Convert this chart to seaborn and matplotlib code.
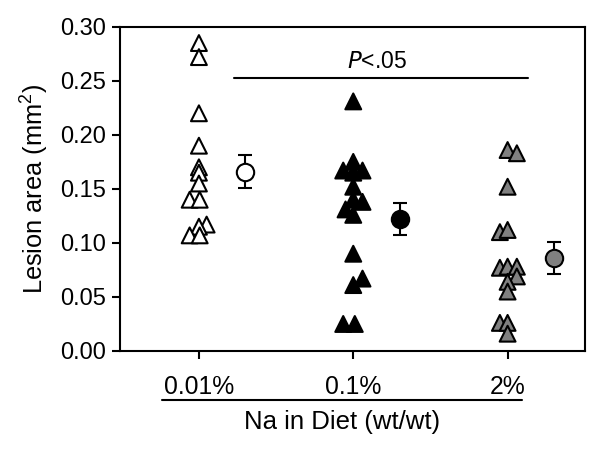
import numpy as np
import pandas as pd
import matplotlib
matplotlib.use('Agg')
import matplotlib.pyplot as plt
import seaborn as sns

# Lesion area per animal
groups = ['0.01%', '0.1%', '2%']
lesion_001 = [0.285, 0.272, 0.220, 0.190, 0.170, 0.165, 0.155, 0.140, 0.140, 0.117, 0.115, 0.107, 0.107]
lesion_01 = [0.231, 0.175, 0.167, 0.167, 0.165, 0.152, 0.140, 0.138, 0.131, 0.126, 0.090, 0.067, 0.061, 0.025, 0.025]
lesion_2 = [0.186, 0.183, 0.152, 0.110, 0.112, 0.077, 0.078, 0.078, 0.069, 0.064, 0.055, 0.026, 0.026, 0.016]

# group means and SEM
means = [0.166, 0.122, 0.086]
sems = [0.015, 0.015, 0.015]

# horizontal scatter of the triangles (category units)
dx_001 = [0, 0, 0, 0, 0, 0, 0, -0.06, 0.005, 0.05, 0, -0.06, 0.005]
dx_01 = [0, 0, -0.065, 0.06, 0, 0, 0, 0.06, -0.05, 0, 0, 0.06, 0, -0.065, 0.01]
dx_2 = [0, 0.06, 0, -0.05, 0, -0.05, 0, 0.06, 0.06, 0, 0, -0.05, 0, 0]

sns.set_theme(style='ticks')
plt.rcParams['font.family'] = ['Liberation Sans', 'DejaVu Sans']
plt.rcParams['mathtext.default'] = 'regular'
plt.rcParams['text.color'] = 'black'

rows = []
for i, (g, vals, dx) in enumerate(zip(groups, [lesion_001, lesion_01, lesion_2], [dx_001, dx_01, dx_2])):
    for v, d in zip(vals, dx):
        rows.append({'group': g, 'x': i + d, 'lesion': v})
df = pd.DataFrame(rows)

fill = {'0.01%': 'white', '0.1%': 'black', '2%': '#808080'}

fig = plt.figure(figsize=(6.01, 4.55), dpi=100)
ax = fig.add_axes([0.2, 0.2286, 0.773, 0.7124])

sns.scatterplot(data=df, x='x', y='lesion', hue='group', palette=fill, marker='^',
                s=130, edgecolor='black', linewidth=1.5, legend=False, ax=ax, zorder=3)

for i, g in enumerate(groups):
    ax.errorbar(i + 0.3, means[i], yerr=sems[i], fmt='o', ms=12.5, mfc=fill[g], mec='black',
                mew=1.5, ecolor='black', elinewidth=1.5, capsize=5, capthick=1.5, zorder=4)

# significance bar
ax.plot([0.23, 2.13], [0.2525, 0.2525], color='black', lw=1.5)
ax.text(1.152, 0.2618, r'$\it{P}$<.05', ha='center', va='baseline', fontsize=16.5, color='black')

ax.set_xlim(-0.51, 2.5)
ax.set_ylim(0, 0.30)
ax.set_xticks([0, 1, 2])
ax.set_xticklabels(groups)
ax.set_yticks(np.arange(0, 0.31, 0.05))
ax.set_yticklabels([f'{t:.2f}' for t in np.arange(0, 0.31, 0.05)])
ax.tick_params(axis='both', direction='out', length=6, width=1.5,
               color='black', labelcolor='black')
ax.tick_params(axis='y', labelsize=17, pad=4)
ax.tick_params(axis='x', labelsize=17.8, pad=11)
for sp in ax.spines.values():
    sp.set_visible(True)
    sp.set_linewidth(1.5)
    sp.set_color('black')

ax.set_ylabel('Lesion area (mm$^2$)', fontsize=18.3, color='black')
ax.yaxis.set_label_coords(-0.15, 0.5)
ax.set_xlabel('Na in Diet (wt/wt)', fontsize=18.5, color='black')
ax.xaxis.set_label_coords(0.477, -0.183)

# underline beneath the category labels
ax.plot([0.09, 0.8645], [-0.151, -0.151], transform=ax.transAxes, color='black',
        lw=1.5, clip_on=False)

fig.savefig('out.png', dpi=100)
